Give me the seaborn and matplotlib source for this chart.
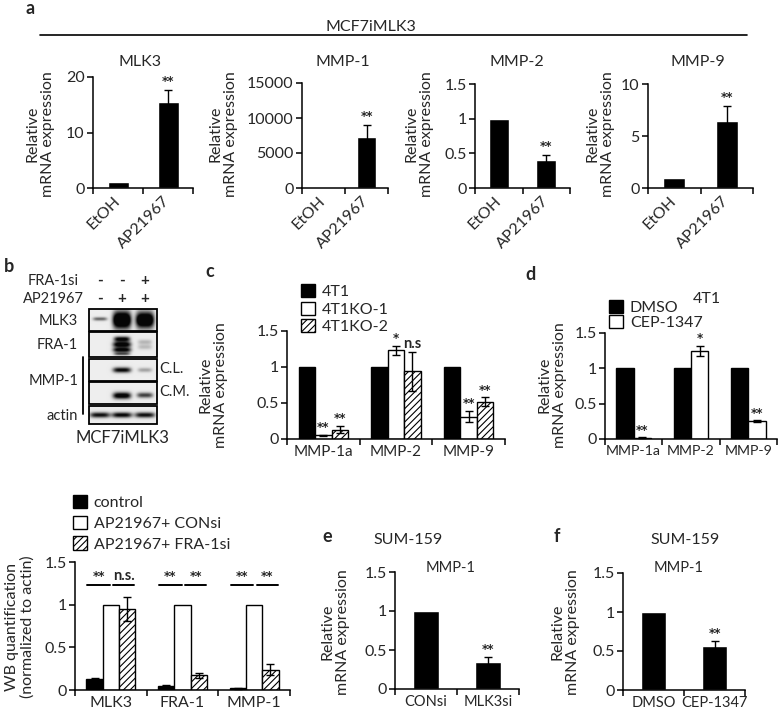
import numpy as np
import pandas as pd
import matplotlib
matplotlib.use("Agg")
import matplotlib.pyplot as plt
import seaborn as sns
from matplotlib.patches import Rectangle, Patch
from matplotlib.lines import Line2D
from matplotlib.ticker import FuncFormatter

# ---------------- data ----------------
a_conditions = ["EtOH", "AP21967"]
a_mlk3 = [1.0, 15.5]
a_mlk3_err = [0.0, 2.1]
a_mmp1 = [1.0, 7300.0]
a_mmp1_err = [0.0, 1700.0]
a_mmp2 = [1.0, 0.40]
a_mmp2_err = [0.0, 0.08]
a_mmp9 = [1.0, 6.4]
a_mmp9_err = [0.0, 1.5]

c_genes = ["MMP-1a", "MMP-2", "MMP-9"]
c_series = ["4T1", "4T1KO-1", "4T1KO-2"]
c_4t1 = [1.0, 1.0, 1.0]
c_4t1_err = [0.0, 0.0, 0.0]
c_ko1 = [0.05, 1.23, 0.31]
c_ko1_err = [0.01, 0.06, 0.08]
c_ko2 = [0.13, 0.94, 0.52]
c_ko2_err = [0.05, 0.27, 0.06]
c_ko1_sig = ["**", "*", "**"]
c_ko2_sig = ["**", "n.s", "**"]

d_genes = ["MMP-1a", "MMP-2", "MMP-9"]
d_series = ["DMSO", "CEP-1347"]
d_dmso = [1.0, 1.0, 1.0]
d_cep = [0.02, 1.25, 0.25]
d_cep_err = [0.005, 0.07, 0.015]
d_cep_sig = ["**", "*", "**"]

wb_targets = ["MLK3", "FRA-1", "MMP-1"]
wb_series = ["control", "AP21967+ CONsi", "AP21967+ FRA-1si"]
wb_control = [0.13, 0.05, 0.02]
wb_control_err = [0.01, 0.005, 0.003]
wb_consi = [1.0, 1.0, 1.0]
wb_fra1si = [0.95, 0.17, 0.24]
wb_fra1si_err = [0.14, 0.03, 0.07]
wb_sig_left = ["**", "**", "**"]
wb_sig_right = ["n.s.", "**", "**"]

e_conditions = ["CONsi", "MLK3si"]
e_values = [1.0, 0.35]
e_err = [0.0, 0.06]
f_conditions = ["DMSO", "CEP-1347"]
f_values = [1.0, 0.57]
f_err = [0.0, 0.06]

blot_rows = ["MLK3", "FRA-1", "C.L.", "C.M.", "actin"]
blot_fra1si = ["-", "-", "+"]
blot_ap = ["-", "+", "+"]

# ---------------- setup ----------------
sns.set_theme(style="ticks")
plt.rcParams["font.family"] = ["Lato", "DejaVu Sans"]
plt.rcParams["hatch.linewidth"] = 0.8
FS = 11.5
STAR = dict(fontsize=8.5, fontweight="bold", family=["DejaVu Sans"])
NS = dict(fontsize=10.5, fontweight="bold")

W, H = 782, 711
fig = plt.figure(figsize=(W / 100, H / 100), dpi=100)
fig.patch.set_facecolor("white")


def px_axes(x0, y0, x1, y1):
    return fig.add_axes([x0 / W, 1 - y1 / H, (x1 - x0) / W, (y1 - y0) / H])


def ftext(x, y, s, **kw):
    kw.setdefault("fontsize", FS)
    kw.setdefault("ha", "center")
    kw.setdefault("va", "center")
    fig.text(x / W, 1 - y / H, s, **kw)


def ylab(x, y, s, fs=FS):
    ftext(x, y, s, rotation=90, multialignment="center", fontsize=fs, linespacing=1.1)


fmt = FuncFormatter(lambda v, p: f"{v:g}")


def style(ax, top, step, n, xfs=FS):
    ax.set_ylim(0, top)
    ax.set_yticks(np.arange(0, top + step / 2, step))
    ax.yaxis.set_major_formatter(fmt)
    ax.set_xlim(-0.5, n - 0.5)
    ax.set_xticks(np.arange(-0.5, n, 1.0), minor=True)
    sns.despine(ax=ax)
    for s in ("left", "bottom"):
        ax.spines[s].set_linewidth(1.1)
        ax.spines[s].set_color("black")
    ax.tick_params(axis="y", length=4, width=1.1, color="black", labelsize=FS, pad=2)
    ax.tick_params(axis="x", which="major", length=0, labelsize=xfs, pad=4)
    ax.tick_params(axis="x", which="minor", length=4, width=1.1, color="black")
    ax.set_xlabel("")
    ax.set_ylabel("")
    ax.set_facecolor("none")


def add_err(ax, container, errs, lw=1.0, cap=3):
    for bar, e in zip(container, errs):
        if e > 0:
            ax.errorbar(bar.get_x() + bar.get_width() / 2, bar.get_height(), yerr=e,
                        fmt="none", ecolor="black", elinewidth=lw, capsize=cap, capthick=lw)


def add_sig(ax, container, errs, labels, dy):
    for bar, e, t in zip(container, errs, labels):
        kw = NS if "n" in t else STAR
        ax.text(bar.get_x() + bar.get_width() / 2, bar.get_height() + e + dy, t,
                ha="center", va="bottom", **kw)


# ---------------- panel a ----------------
ftext(30, 8, "a", fontweight="bold", fontsize=13)
ftext(371, 27, "MCF7iMLK3")
fig.add_artist(Line2D([40 / W, 747 / W], [1 - 35 / H, 1 - 35 / H], color="black", lw=1.2))

a_panels = [
    ("MLK3", a_mlk3, a_mlk3_err, (93, 77, 193, 188), 20, 10, 140, 40),
    ("MMP-1", a_mmp1, a_mmp1_err, (302, 83, 388, 188), 15000, 5000, 343, 223),
    ("MMP-2", a_mmp2, a_mmp2_err, (475, 84, 570, 188), 1.5, 0.5, 517, 419),
    ("MMP-9", a_mmp9, a_mmp9_err, (648, 84, 753, 188), 10, 5, 698, 600),
]
for name, vals, errs, box, top, step, tx, lx in a_panels:
    ax = px_axes(*box)
    df = pd.DataFrame({"cond": a_conditions, "val": vals})
    sns.barplot(data=df, x="cond", y="val", color="black", saturation=1, width=0.42,
                errorbar=None, ax=ax)
    add_err(ax, ax.containers[0], errs)
    add_sig(ax, ax.containers[0], errs, ["", "**"], top * 0.02)
    style(ax, top, step, 2)
    for lbl in ax.get_xticklabels():
        lbl.set_rotation(45)
        lbl.set_ha("right")
        lbl.set_va("center")
        lbl.set_rotation_mode("anchor")
    ax.tick_params(axis="x", which="major", pad=8)
    ftext(tx, 62, name)
    ylab(lx, 134, "Relative\nmRNA expression")

# ---------------- panel b (blot) ----------------
ftext(9, 266, "b", fontweight="bold", fontsize=13)
lanes_x = [100, 122, 145]
ftext(53, 281, "FRA-1si", fontsize=10.5)
ftext(53, 299, "AP21967", fontsize=10.5)
for lx_, s1, s2 in zip(lanes_x, blot_fra1si, blot_ap):
    ftext(lx_, 281, s1, fontsize=11, fontweight="bold")
    ftext(lx_, 299, s2, fontsize=11, fontweight="bold")

bx0, bx1 = 89, 157
row_boxes = [(309, 331), (332, 357), (359, 381), (382, 404), (406, 424)]
# band specs per row: (lane, y centre frac, y sigma frac, x half width px, intensity)
bands = [
    [(0, 0.45, 0.08, 7, 0.55), (1, 0.5, 0.38, 9, 1.6), (2, 0.5, 0.36, 9, 1.5)],
    [(1, 0.28, 0.1, 8, 1.0), (1, 0.5, 0.12, 9, 1.1), (1, 0.72, 0.1, 9, 1.0), (1, 0.88, 0.06, 8, 0.6),
     (2, 0.4, 0.1, 7, 0.22), (2, 0.6, 0.1, 7, 0.2)],
    [(1, 0.5, 0.12, 9, 0.95), (2, 0.5, 0.1, 7, 0.3)],
    [(1, 0.62, 0.15, 9, 1.1), (2, 0.6, 0.12, 8, 0.7)],
    [(0, 0.5, 0.15, 10, 0.9), (1, 0.5, 0.15, 10, 0.95), (2, 0.5, 0.15, 10, 0.9)],
]
bax = px_axes(0, 0, W, H)
bax.set_xlim(0, W)
bax.set_ylim(H, 0)
bax.axis("off")
bax.set_zorder(-1)
for (y0, y1), spec in zip(row_boxes, bands):
    nx, ny = (bx1 - bx0) * 4, (y1 - y0) * 4
    xx = np.linspace(bx0, bx1, nx)[None, :]
    yy = np.linspace(0, 1, ny)[:, None]
    img = np.full((ny, nx), 0.93)
    for lane, yc, ys, hw, inten in spec:
        prof = np.exp(-((xx - lanes_x[lane]) / hw) ** 4) * np.exp(-((yy - yc) / ys) ** 2)
        img -= inten * prof
    img = np.clip(img, 0.02, 1)
    bax.imshow(img, cmap="gray", vmin=0, vmax=1, extent=(bx0, bx1, y1, y0), aspect="auto",
               interpolation="bilinear")
    bax.add_patch(Rectangle((bx0, y0), bx1 - bx0, y1 - y0, fill=False, ec="black", lw=1.3))
bax.set_xlim(0, W)
bax.set_ylim(H, 0)
ftext(78, 321, "MLK3", ha="right", fontsize=10.5)
ftext(78, 345, "FRA-1", ha="right", fontsize=10.5)
ftext(78, 381, "MMP-1", ha="right", fontsize=10.5)
ftext(78, 416, "actin", ha="right", fontsize=10.5)
ftext(159, 369, "C.L.", ha="left", fontsize=10.5)
ftext(159, 392, "C.M.", ha="left", fontsize=10.5)
bax.plot([83, 83], [357, 414], color="black", lw=1.3)
ftext(122, 438, "MCF7iMLK3", fontsize=12)

# ---------------- panel c ----------------
ftext(210, 272, "c", fontweight="bold", fontsize=13)
ax = px_axes(287, 331, 505, 439)
dfc = pd.DataFrame({
    "gene": c_genes * 3,
    "series": [c_series[0]] * 3 + [c_series[1]] * 3 + [c_series[2]] * 3,
    "val": c_4t1 + c_ko1 + c_ko2,
})
sns.barplot(data=dfc, x="gene", y="val", hue="series", palette=["black", "white", "white"],
            saturation=1, width=0.68, errorbar=None, edgecolor="black", linewidth=1,
            legend=False, ax=ax)
for bar in ax.containers[2]:
    bar.set_hatch("/////")
add_err(ax, ax.containers[1], c_ko1_err)
add_err(ax, ax.containers[2], c_ko2_err)
add_sig(ax, ax.containers[1], c_ko1_err, c_ko1_sig, 0.01)
add_sig(ax, ax.containers[2], c_ko2_err, c_ko2_sig, 0.01)
style(ax, 1.5, 0.5, 3, xfs=11)
ylab(213, 385, "Relative\nmRNA expression")
handles = [Patch(fc="black", ec="black"), Patch(fc="white", ec="black"),
           Patch(fc="white", ec="black", hatch="/////")]
ax.legend(handles, c_series, frameon=False, loc="upper left", bbox_to_anchor=(301 / W, 1 - 284 / H),
          bbox_transform=fig.transFigure, handlelength=0.9, handleheight=0.9, handletextpad=0.4,
          labelspacing=0.15, borderpad=0, borderaxespad=0, fontsize=FS)

# ---------------- panel d ----------------
ftext(530, 275, "d", fontweight="bold", fontsize=13)
ftext(707, 299, "4T1")
ax = px_axes(605, 333, 777, 439)
dfd = pd.DataFrame({
    "gene": d_genes * 2,
    "series": [d_series[0]] * 3 + [d_series[1]] * 3,
    "val": d_dmso + d_cep,
})
sns.barplot(data=dfd, x="gene", y="val", hue="series", palette=["black", "white"],
            saturation=1, width=0.6, errorbar=None, edgecolor="black", linewidth=1,
            legend=False, ax=ax)
add_err(ax, ax.containers[1], d_cep_err)
add_sig(ax, ax.containers[1], d_cep_err, d_cep_sig, 0.01)
style(ax, 1.5, 0.5, 3, xfs=10.2)
ylab(552, 385, "Relative\nmRNA expression")
ax.legend(handles[:2], d_series, frameon=False, loc="upper left", bbox_to_anchor=(609 / W, 1 - 300 / H),
          bbox_transform=fig.transFigure, handlelength=0.9, handleheight=0.9, handletextpad=0.4,
          labelspacing=0.0, borderpad=0, borderaxespad=0, fontsize=FS)

# ---------------- WB quantification ----------------
ax = px_axes(75, 562, 290, 690)
dfw = pd.DataFrame({
    "target": wb_targets * 3,
    "series": [wb_series[0]] * 3 + [wb_series[1]] * 3 + [wb_series[2]] * 3,
    "val": wb_control + wb_consi + wb_fra1si,
})
sns.barplot(data=dfw, x="target", y="val", hue="series", palette=["black", "white", "white"],
            saturation=1, width=0.68, errorbar=None, edgecolor="black", linewidth=1,
            legend=False, ax=ax)
for bar in ax.containers[2]:
    bar.set_hatch("/////")
add_err(ax, ax.containers[0], wb_control_err)
add_err(ax, ax.containers[2], wb_fra1si_err)
style(ax, 1.5, 0.5, 3)
ax.set_ylim(0, 1.5)
ly = 1.23
for b0, b1, b2, sl, sr in zip(ax.containers[0], ax.containers[1], ax.containers[2],
                              wb_sig_left, wb_sig_right):
    w = b1.get_width()
    xa, xb = b0.get_x() + w * 0.05, b1.get_x() + w * 0.45
    xc, xd = b1.get_x() + w * 0.65, b2.get_x() + w * 0.95
    ax.plot([xa, xb], [ly, ly], color="black", lw=1.4, clip_on=False)
    ax.plot([xc, xd], [ly, ly], color="black", lw=1.4, clip_on=False)
    ax.text((xa + xb) / 2, ly + 0.02, sl, ha="center", va="bottom", **STAR)
    kw = STAR if sr == "**" else NS
    ax.text((xc + xd) / 2, ly + 0.02, sr, ha="center", va="bottom", **kw)
ylab(20, 627, "WB quantification\n(normalized to actin)")
ax.legend(handles, wb_series, frameon=False, loc="upper left", bbox_to_anchor=(73 / W, 1 - 495 / H),
          bbox_transform=fig.transFigure, handlelength=0.9, handleheight=0.9, handletextpad=0.4,
          labelspacing=0.35, borderpad=0, borderaxespad=0, fontsize=FS)

# ---------------- panel e ----------------
ftext(327, 536, "e", fontweight="bold", fontsize=13)
ftext(408, 540, "SUM-159")
ftext(451, 568, "MMP-1", fontsize=10.5)
ax = px_axes(395, 572, 519, 689)
dfe = pd.DataFrame({"cond": e_conditions, "val": e_values})
sns.barplot(data=dfe, x="cond", y="val", color="black", saturation=1, width=0.42,
            errorbar=None, ax=ax)
add_err(ax, ax.containers[0], e_err)
add_sig(ax, ax.containers[0], e_err, ["", "**"], 0.01)
style(ax, 1.5, 0.5, 2, xfs=10.5)
ylab(335, 632, "Relative\nmRNA expression")

# ---------------- panel f ----------------
ftext(557, 536, "f", fontweight="bold", fontsize=13)
ftext(685, 540, "SUM-159")
ftext(679, 568, "MMP-1", fontsize=10.5)
ax = px_axes(623, 573, 745, 690)
dff = pd.DataFrame({"cond": f_conditions, "val": f_values})
sns.barplot(data=dff, x="cond", y="val", color="black", saturation=1, width=0.41,
            errorbar=None, ax=ax)
add_err(ax, ax.containers[0], f_err)
add_sig(ax, ax.containers[0], f_err, ["", "**"], 0.01)
style(ax, 1.5, 0.5, 2, xfs=10.5)
ylab(565, 632, "Relative\nmRNA expression")

fig.savefig("out.png", dpi=100, facecolor="white")
